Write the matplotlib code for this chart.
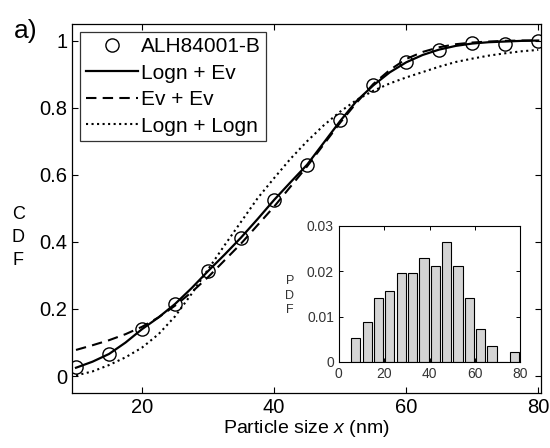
import matplotlib
matplotlib.use("Agg")
import matplotlib.pyplot as plt

plt.rcParams['font.family'] = ['Liberation Sans', 'DejaVu Sans']
plt.rcParams['mathtext.fontset'] = 'custom'
plt.rcParams['mathtext.it'] = 'Liberation Sans:italic'
plt.rcParams['mathtext.rm'] = 'Liberation Sans'

# Observed CDF (markers)
obs_x = [10, 15, 20, 25, 30, 35, 40, 45, 50, 55, 60, 65, 70, 75, 80]
obs_cdf = [0.028, 0.067, 0.14, 0.216, 0.313, 0.413, 0.526, 0.63, 0.762,
           0.866, 0.935, 0.972, 0.992, 0.99, 1.0]

# Fitted curves
fit_x = [10, 12.5, 15, 17.5, 20, 22.5, 25, 27.5, 30, 32.5, 35, 37.5, 40,
         42.5, 45, 47.5, 50, 52.5, 55, 57.5, 60, 62.5, 65, 67.5, 70, 72.5,
         75, 77.5, 80]
logn_ev = [0.025, 0.043, 0.066, 0.10, 0.14, 0.175, 0.215, 0.262, 0.313,
           0.362, 0.413, 0.468, 0.525, 0.578, 0.63, 0.695, 0.76, 0.82,
           0.866, 0.905, 0.935, 0.957, 0.973, 0.984, 0.991, 0.995, 0.997,
           0.999, 1.0]
ev_ev = [0.078, 0.092, 0.107, 0.125, 0.147, 0.175, 0.21, 0.25, 0.295,
         0.345, 0.395, 0.45, 0.505, 0.565, 0.625, 0.69, 0.755, 0.815,
         0.87, 0.912, 0.945, 0.966, 0.98, 0.989, 0.994, 0.997, 0.999,
         1.0, 1.0]
logn_logn = [0.002, 0.014, 0.033, 0.056, 0.085, 0.125, 0.178, 0.245, 0.318,
             0.39, 0.46, 0.53, 0.59, 0.648, 0.70, 0.747, 0.788, 0.823,
             0.850, 0.872, 0.89, 0.906, 0.922, 0.936, 0.946, 0.955, 0.962,
             0.968, 0.972]

# Histogram (inset)
hist_centers = [7.5, 12.5, 17.5, 22.5, 27.5, 32.5, 37.5, 42.5, 47.5, 52.5,
                57.5, 62.5, 67.5, 72.5, 77.5]
hist_pdf = [0.0053, 0.0087, 0.0140, 0.0157, 0.0195, 0.0195, 0.0228, 0.0211,
            0.0264, 0.0211, 0.0142, 0.0073, 0.0035, 0.0, 0.0021]

main_xticks = [20, 40, 60, 80]
main_yticks = [0, 0.2, 0.4, 0.6, 0.8, 1]
main_yticklabels = ['0', '0.2', '0.4', '0.6', '0.8', '1']
inset_xticks = [0, 20, 40, 60, 80]
inset_yticks = [0, 0.01, 0.02, 0.03]
inset_yticklabels = ['0', '0.01', '0.02', '0.03']

fig = plt.figure(figsize=(5.5, 4.48), dpi=100)
fig.patch.set_facecolor('white')
ax = fig.add_axes([0.131, 0.123, 0.853, 0.824])

ax.plot(obs_x, obs_cdf, 'o', mfc='none', mec='black', ms=9.5, mew=1.0,
        label='ALH84001-B', zorder=5)
ax.plot(fit_x, logn_ev, '-', color='black', lw=1.6, label='Logn + Ev')
ax.plot(fit_x, ev_ev, '--', color='black', lw=1.5, dashes=(5, 3),
        label='Ev + Ev')
ax.plot(fit_x, logn_logn, ':', color='black', lw=1.5, label='Logn + Logn')

ax.set_xlim(9.4, 80.45)
ax.set_ylim(-0.05, 1.05)
ax.set_xticks(main_xticks)
ax.set_yticks(main_yticks)
ax.set_yticklabels(main_yticklabels)
ax.tick_params(direction='in', top=True, right=True, labelsize=14.5,
               length=4, width=0.8)
for s in ax.spines.values():
    s.set_linewidth(0.9)

ax.set_xlabel('Particle size $x$ (nm)', fontsize=14, labelpad=1)
fig.text(0.033, 0.47, 'C\nD\nF', fontsize=13, ha='center', va='center',
         linespacing=1.45)
fig.text(0.025, 0.905, 'a)', fontsize=19, ha='left', va='bottom')

leg = ax.legend(loc='upper left', fontsize=15, frameon=True, fancybox=False,
                edgecolor='black', borderpad=0.25, labelspacing=0.36,
                handlelength=2.5, handletextpad=0.15, borderaxespad=0.4)
leg.get_frame().set_linewidth(0.9)

# Inset histogram
ins = fig.add_axes([0.616, 0.192, 0.330, 0.304])
ins.bar(hist_centers, hist_pdf, width=4.1, color='#d4d4d4',
        edgecolor='black', linewidth=0.8)
ins.set_xlim(0, 80)
ins.set_ylim(0, 0.03)
ins.set_xticks(inset_xticks)
ins.set_yticks(inset_yticks)
ins.set_yticklabels(inset_yticklabels)
ins.tick_params(direction='in', top=True, right=True, labelsize=10,
                length=3, width=0.7, labelcolor='#333333')
for s in ins.spines.values():
    s.set_linewidth(0.8)
fig.text(0.527, 0.34, 'P\nD\nF', fontsize=9, ha='center', va='center',
         linespacing=1.3, color='#333333')

fig.savefig('out.png', dpi=100, facecolor='white')
